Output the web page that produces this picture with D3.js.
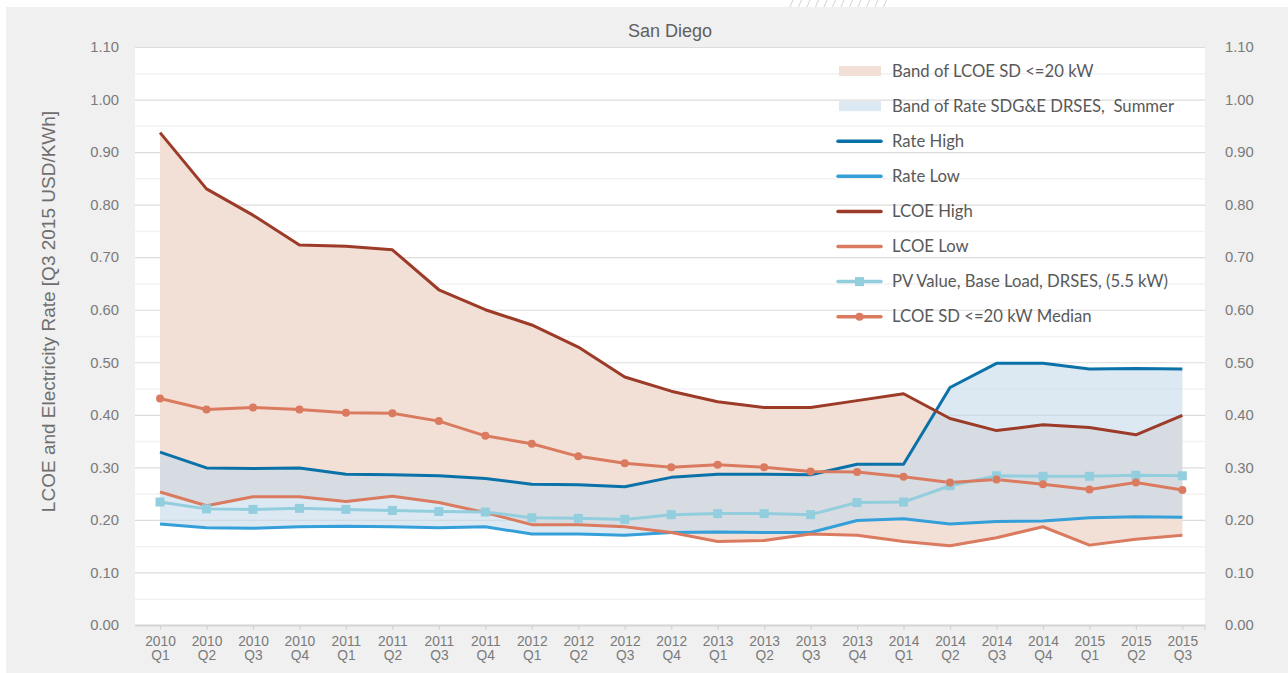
<!DOCTYPE html>
<html>
<head>
<meta charset="utf-8">
<script src="https://cdn.jsdelivr.net/npm/d3@7"></script>
<style>
  html, body { margin: 0; padding: 0; background: #ffffff; }
  svg { display: block; }
</style>
</head>
<body>
<svg id="chart" width="1288" height="673"></svg>
<script>
// ---------- DATA ----------
const years    = ["2010","2010","2010","2010","2011","2011","2011","2011","2012","2012","2012","2012","2013","2013","2013","2013","2014","2014","2014","2014","2015","2015","2015"];
const quarters = ["Q1","Q2","Q3","Q4","Q1","Q2","Q3","Q4","Q1","Q2","Q3","Q4","Q1","Q2","Q3","Q4","Q1","Q2","Q3","Q4","Q1","Q2","Q3"];
const categories = years.map((y, i) => y + " " + quarters[i]);

const rateHigh   = [0.329,0.299,0.298,0.299,0.287,0.286,0.284,0.279,0.268,0.267,0.263,0.281,0.287,0.287,0.286,0.306,0.306,0.452,0.498,0.498,0.487,0.488,0.487];
const rateLow    = [0.192,0.185,0.184,0.187,0.188,0.187,0.185,0.187,0.173,0.173,0.171,0.176,0.177,0.176,0.176,0.199,0.202,0.192,0.197,0.198,0.204,0.206,0.205];
const lcoeHigh   = [0.937,0.830,0.780,0.723,0.721,0.714,0.638,0.600,0.571,0.529,0.472,0.445,0.425,0.414,0.414,0.427,0.440,0.393,0.370,0.381,0.376,0.362,0.399];
const lcoeLow    = [0.253,0.227,0.244,0.244,0.235,0.245,0.233,0.214,0.191,0.191,0.187,0.176,0.159,0.161,0.173,0.171,0.159,0.151,0.166,0.187,0.152,0.163,0.171];
const pvValue    = [0.234,0.221,0.220,0.222,0.220,0.218,0.216,0.215,0.204,0.203,0.201,0.210,0.212,0.212,0.210,0.233,0.234,0.265,0.284,0.283,0.283,0.285,0.284];
const lcoeMedian = [0.431,0.410,0.414,0.410,0.404,0.403,0.388,0.360,0.345,0.321,0.308,0.300,0.305,0.300,0.292,0.291,0.282,0.271,0.277,0.268,0.258,0.271,0.257];

const yTicks = [0,0.1,0.2,0.3,0.4,0.5,0.6,0.7,0.8,0.9,1.0,1.1];
const yMinorTicks = [0.05,0.15,0.25,0.35,0.45,0.55,0.65,0.75,0.85,0.95,1.05];

const legendLabels = [
  "Band of LCOE SD <=20 kW",
  "Band of Rate SDG&E DRSES,  Summer",
  "Rate High",
  "Rate Low",
  "LCOE High",
  "LCOE Low",
  "PV Value, Base Load, DRSES, (5.5 kW)",
  "LCOE SD <=20 kW Median"
];

// ---------- STYLE ----------
const C = {
  bg: "#f0f0f0",
  lcoeBand: "#f2dfd5",
  rateBand: "rgb(197,218,235)",
  rateBandOpacity: 0.6,
  rateHigh: "#0a72a8",
  rateLow: "#349fd9",
  lcoeHigh: "#9c3b28",
  lcoeLow: "#da7b60",
  pv: "#93cede",
  median: "#da7b60",
  text: "#7a7a7a",
  grid: "#dcdcdc",
  gridMinor: "#f2f2f2"
};
const FONT = "'Liberation Sans', Arial, sans-serif";

const svg = d3.select("#chart");
const W = 1288, H = 673;
const plot = { left: 135, right: 1205, top: 47, bottom: 625 };

// Background
svg.append("rect").attr("x", 0).attr("y", 0).attr("width", W).attr("height", H).attr("fill", "#ffffff");
svg.append("rect").attr("x", 6).attr("y", 7).attr("width", W - 6).attr("height", H - 7).attr("fill", C.bg);

// top hatch decoration
const hatch = svg.append("g").attr("stroke", "#c8c8c8").attr("stroke-width", 0.8);
d3.range(12).forEach(i => {
  const hx = 790 + i * 8.5;
  hatch.append("line").attr("x1", hx).attr("y1", 7).attr("x2", hx + 3).attr("y2", 0);
});

// plot area
svg.append("rect").attr("x", plot.left).attr("y", plot.top)
  .attr("width", plot.right - plot.left).attr("height", plot.bottom - plot.top)
  .attr("fill", "#ffffff");

// Scales
const x = d3.scalePoint().domain(categories).range([136.8, 1205.6]).padding(0.5);
const y = d3.scaleLinear().domain([0, 1.1]).range([plot.bottom, plot.top]);

// Gridlines
svg.append("g").selectAll("line").data(yMinorTicks).join("line")
  .attr("x1", plot.left).attr("x2", plot.right)
  .attr("y1", d => y(d) + 0.5).attr("y2", d => y(d) + 0.5)
  .attr("stroke", C.gridMinor).attr("stroke-width", 1.5);
svg.append("g").selectAll("line").data(yTicks.filter(d => d > 0)).join("line")
  .attr("x1", plot.left).attr("x2", plot.right)
  .attr("y1", d => y(d) + 0.5).attr("y2", d => y(d) + 0.5)
  .attr("stroke", C.grid).attr("stroke-width", 1.2);

// Bands
const idx = d3.range(categories.length);
const areaGen = (lo, hi) => d3.area()
  .x(i => x(categories[i]))
  .y0(i => y(lo[i]))
  .y1(i => y(hi[i]));

svg.append("path").attr("d", areaGen(lcoeLow, lcoeHigh)(idx))
  .attr("fill", C.lcoeBand);
svg.append("path").attr("d", areaGen(rateLow, rateHigh)(idx))
  .attr("fill", C.rateBand).attr("fill-opacity", C.rateBandOpacity);

// X axis line + ticks
const xAxis = d3.axisBottom(x).tickSize(5).tickFormat(() => "");
const gx = svg.append("g").attr("transform", `translate(0,${plot.bottom})`).call(xAxis);
gx.select(".domain").attr("stroke", "#d4d4d4").attr("stroke-width", 2)
  .attr("d", `M${plot.left},0.5H${plot.right}`);
gx.selectAll(".tick line").attr("stroke", "#d4d4d4").attr("stroke-width", 1.2);
svg.append("line").attr("x1", plot.right).attr("x2", plot.right)
  .attr("y1", plot.bottom).attr("y2", plot.bottom + 5).attr("stroke", "#d4d4d4").attr("stroke-width", 1.2);

// X tick labels (two lines)
gx.selectAll(".tick").each(function(d, i) {
  const t = d3.select(this).append("text")
    .attr("fill", C.text).attr("text-anchor", "middle")
    .style("font-family", FONT).style("font-size", "13.8px");
  t.append("tspan").attr("x", 0).attr("y", 20.5).text(years[i]);
  t.append("tspan").attr("x", 0).attr("y", 35).text(quarters[i]);
});

// Y axes
const yLeft = d3.axisLeft(y).tickValues(yTicks).tickSize(0).tickPadding(0).tickFormat(d3.format(".2f"));
const gyl = svg.append("g").attr("transform", `translate(119,0)`).call(yLeft);
gyl.select(".domain").remove();
gyl.selectAll("text").attr("fill", C.text)
  .style("font-family", FONT).style("font-size", "14.8px");

const yRight = d3.axisRight(y).tickValues(yTicks).tickSize(0).tickPadding(0).tickFormat(d3.format(".2f"));
const gyr = svg.append("g").attr("transform", `translate(1225,0)`).call(yRight);
gyr.select(".domain").remove();
gyr.selectAll("text").attr("fill", C.text)
  .style("font-family", FONT).style("font-size", "14.8px");

// Y title
svg.append("text")
  .attr("transform", `translate(55,311.5) rotate(-90)`)
  .attr("text-anchor", "middle")
  .attr("fill", "#6e6e6e")
  .style("font-family", FONT).style("font-size", "19px")
  .text("LCOE and Electricity Rate [Q3 2015 USD/KWh]");

// Title
svg.append("text")
  .attr("x", 670).attr("y", 37)
  .attr("text-anchor", "middle")
  .attr("fill", "#606060")
  .style("font-family", FONT).style("font-size", "18px")
  .text("San Diego");

// Lines
const lineGen = arr => d3.line().x(i => x(categories[i])).y(i => y(arr[i]))(idx);
const lines = [
  { data: rateLow, color: C.rateLow },
  { data: rateHigh, color: C.rateHigh },
  { data: lcoeLow, color: C.lcoeLow },
  { data: lcoeHigh, color: C.lcoeHigh },
  { data: pvValue, color: C.pv },
  { data: lcoeMedian, color: C.median }
];
lines.forEach(l => {
  svg.append("path").attr("d", lineGen(l.data))
    .attr("fill", "none").attr("stroke", l.color).attr("stroke-width", 3)
    .attr("stroke-linejoin", "round");
});

// markers
svg.append("g").selectAll("rect").data(idx).join("rect")
  .attr("x", i => x(categories[i]) - 4.5).attr("y", i => y(pvValue[i]) - 4.5)
  .attr("width", 9).attr("height", 9).attr("fill", C.pv);
svg.append("g").selectAll("circle").data(idx).join("circle")
  .attr("cx", i => x(categories[i])).attr("cy", i => y(lcoeMedian[i]))
  .attr("r", 4).attr("fill", C.median);

// Legend
const lg = svg.append("g");
const lx0 = 838, lx1 = 881, ly0 = 71, ldy = 35.1;
const legendColors = [C.lcoeBand, C.rateBand, C.rateHigh, C.rateLow, C.lcoeHigh, C.lcoeLow, C.pv, C.median];
legendLabels.forEach((lab, i) => {
  const yy = ly0 + i * ldy;
  if (i === 0) {
    lg.append("rect").attr("x", lx0 + 1).attr("y", yy - 5).attr("width", lx1 - lx0 - 1).attr("height", 10).attr("fill", legendColors[i]);
  } else if (i === 1) {
    lg.append("rect").attr("x", lx0 + 1).attr("y", yy - 5).attr("width", lx1 - lx0 - 1).attr("height", 10)
      .attr("fill", legendColors[i]).attr("fill-opacity", C.rateBandOpacity);
  } else {
    lg.append("line").attr("x1", lx0).attr("x2", lx1).attr("y1", yy).attr("y2", yy)
      .attr("stroke", legendColors[i]).attr("stroke-width", 3.5).attr("stroke-linecap", "round");
    if (i === 6) {
      lg.append("rect").attr("x", (lx0 + lx1) / 2 - 4.5).attr("y", yy - 4.5).attr("width", 9).attr("height", 9).attr("fill", C.pv);
    }
    if (i === 7) {
      lg.append("circle").attr("cx", (lx0 + lx1) / 2).attr("cy", yy).attr("r", 4).attr("fill", C.median);
    }
  }
  lg.append("text").attr("x", 892).attr("y", yy + 5.5)
    .attr("fill", "#595959")
    .style("white-space", "pre")
    .attr("xml:space", "preserve")
    .style("font-family", "Lato, 'Open Sans', sans-serif").style("font-size", "16.7px")
    .text(lab);
});
</script>
</body>
</html>
